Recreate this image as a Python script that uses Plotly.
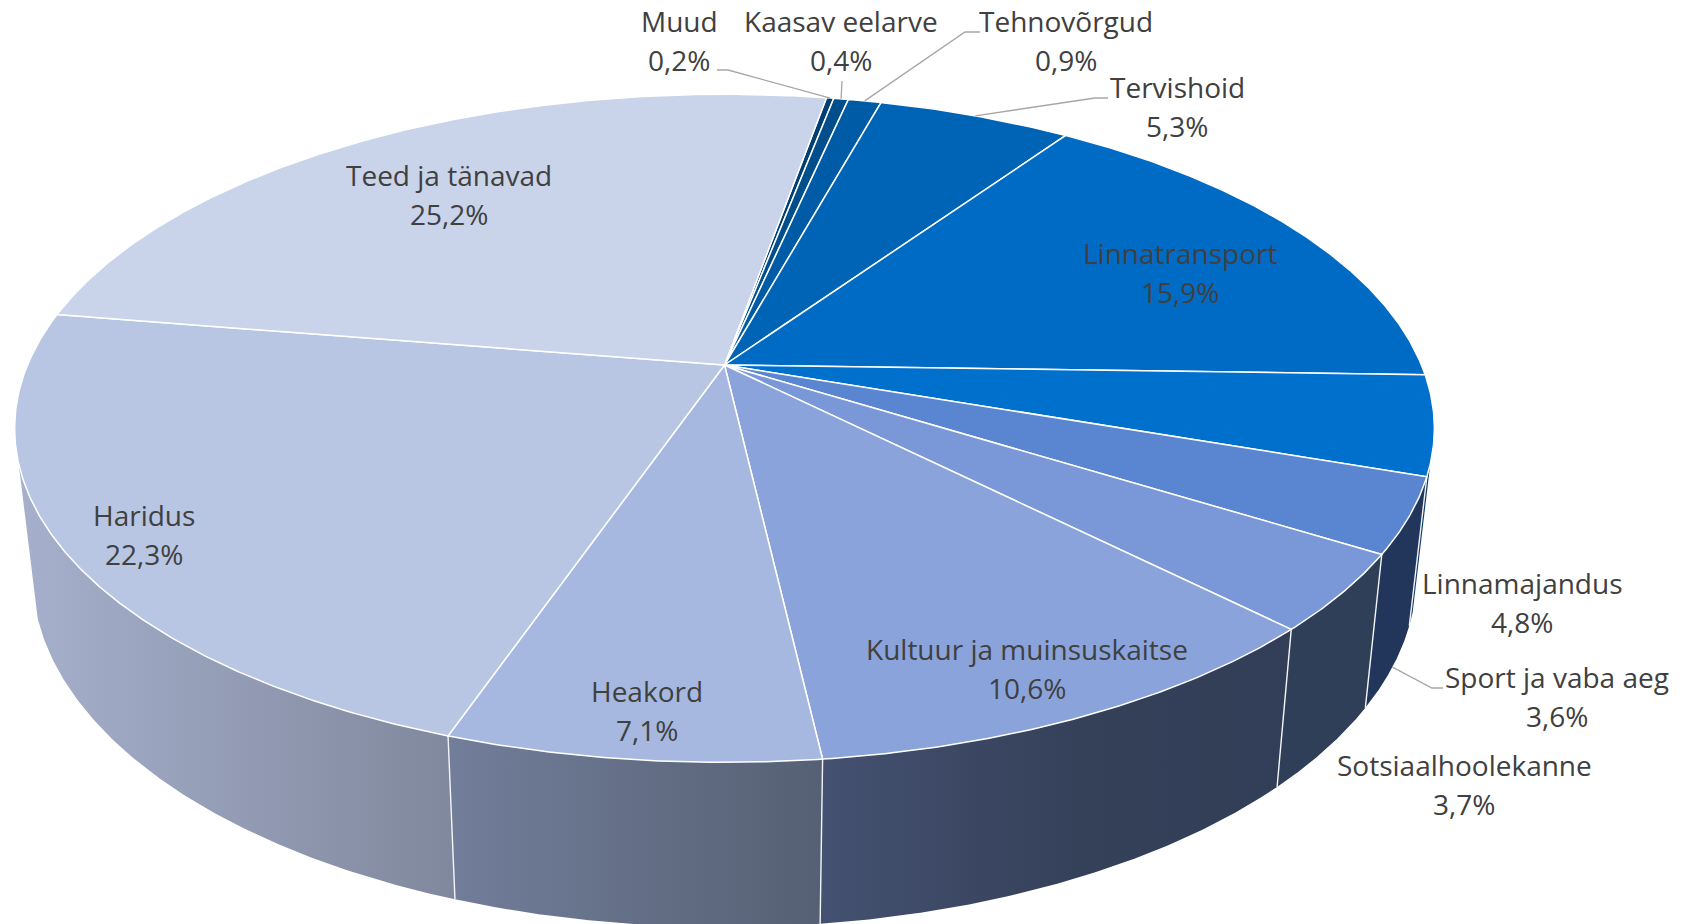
import numpy as np
import plotly.graph_objects as go

categories = ["Muud", "Kaasav eelarve", "Tehnovõrgud", "Tervishoid", "Linnatransport", "Linnamajandus",
              "Sport ja vaba aeg", "Sotsiaalhoolekanne", "Kultuur ja muinsuskaitse", "Heakord", "Haridus", "Teed ja tänavad"]
values = [0.2, 0.4, 0.9, 5.3, 15.9, 4.8, 3.6, 3.7, 10.6, 7.1, 22.3, 25.2]
top_colors = ["#003f73", "#004e8c", "#005ba6", "#0064b6", "#006bc4", "#0070cd",
              "#5a85d1", "#7a98d8", "#8aa4db", "#a6b8e0", "#b8c6e4", "#c9d4eb"]
wall_left = {"Linnamajandus": "#0b3a68", "Sport ja vaba aeg": "#21365a", "Sotsiaalhoolekanne": "#303f58",
             "Kultuur ja muinsuskaitse": "#445170", "Heakord": "#727e9a", "Haridus": "#a6b0cc"}
wall_right = {"Linnamajandus": "#0b3a68", "Sport ja vaba aeg": "#21365a", "Sotsiaalhoolekanne": "#303f58",
              "Kultuur ja muinsuskaitse": "#323e57", "Heakord": "#566074", "Haridus": "#80889d"}
wall_mid = {"Kultuur ja muinsuskaitse": "#354059"}

# label layout: centre of the name line and of the value line
label_x = [679, 841, 1066, 1177, 1180, 1522, 1557, 1464, 1027, 647, 144, 449]
label_y = [21, 21, 21, 87, 253, 583, 677, 765, 649, 691, 515, 175]
line_gap = 38.6
# leader lines: elbow and end beside the label, for categories that have one
leaders = {"Muud": [(728, 70), (717, 70)], "Kaasav eelarve": [(842, 81)],
           "Tehnovõrgud": [(965, 32), (980, 32)], "Tervishoid": [(1095, 98), (1108, 98)],
           "Sport ja vaba aeg": [(1432, 688), (1443, 688)]}

# projection of the tilted disc
CX, CY, A, B, K = 724.5, 365.0, 697.0, 322.0, 0.1895
START = 10.0
BOT = dict(sx=0.975, sy=1.055, dy=143.0)
TOP = dict(sx=1.0, sy=1.0, dy=0.0)
VIS = (106.9, 253.1)


def proj(deg, p=TOP, r=1.0):
    t = np.radians(deg)
    x, y = r * np.sin(t), r * np.cos(t)
    w = 1 + K * y
    return CX + p["sx"] * A * x / w, CY + p["dy"] - p["sy"] * B * y / w


fracs = np.array(values) / sum(values) * 360
ends = START + np.cumsum(fracs)
starts = ends - fracs
fig = go.Figure()

# walls
order = sorted(range(len(values)), key=lambda i: -abs((starts[i] + ends[i]) / 2 - 180))
for i in order:
    name = categories[i]
    if name not in wall_left:
        continue
    a, b = max(starts[i], VIS[0]), min(ends[i], VIS[1])
    th = np.linspace(a, b, 120)
    xt, yt = proj(th)
    xb, yb = proj(th[::-1], BOT)
    cs = [[0, wall_left[name]], [1, wall_right[name]]]
    if name in wall_mid:
        cs = [[0, wall_left[name]], [0.55, wall_mid[name]], [1, wall_right[name]]]
    fig.add_trace(go.Scatter(x=np.r_[xt, xb, xt[0]], y=np.r_[yt, yb, yt[0]], mode="lines", fill="toself",
                             line=dict(width=0), fillgradient=dict(type="horizontal", colorscale=cs),
                             hoverinfo="skip", showlegend=False))
# white seams between walls
for i in range(len(values)):
    if VIS[0] < ends[i] < VIS[1]:
        xa, ya = proj(ends[i])
        xb, yb = proj(ends[i], BOT)
        fig.add_trace(go.Scatter(x=[xa, xb], y=[ya, yb], mode="lines", line=dict(color="#f2f4f8", width=1.4),
                                 hoverinfo="skip", showlegend=False))
# top faces
for i, name in enumerate(categories):
    th = np.linspace(starts[i], ends[i], max(int(fracs[i] * 3), 8))
    xt, yt = proj(th)
    fig.add_trace(go.Scatter(x=np.r_[CX, xt, CX], y=np.r_[CY, yt, CY], mode="lines", fill="toself",
                             fillcolor=top_colors[i], line=dict(color="#ffffff", width=1.5),
                             hoverinfo="skip", showlegend=False, name=name))
# leaders
mids = (starts + ends) / 2
for name, pts in leaders.items():
    i = categories.index(name)
    p = BOT if name == "Sport ja vaba aeg" else TOP
    sx, sy = proj(mids[i], p)
    fig.add_trace(go.Scatter(x=[sx] + [q[0] for q in pts], y=[sy] + [q[1] for q in pts], mode="lines",
                             line=dict(color="#a6a6a6", width=1.3), hoverinfo="skip", showlegend=False))
# labels
for i, name in enumerate(categories):
    pct = f"{values[i]:.1f}".replace(".", ",") + "%"
    for txt, yy in ((name, label_y[i]), (pct, label_y[i] + line_gap)):
        fig.add_annotation(x=label_x[i], y=yy, text=txt, showarrow=False, xanchor="center", yanchor="middle",
                           font=dict(family="Open Sans", size=28, color="#404040"))

fig.update_layout(margin=dict(l=0, r=0, t=0, b=0), paper_bgcolor="#ffffff", plot_bgcolor="#ffffff",
                  showlegend=False, width=1683, height=924,
                  xaxis=dict(range=[0, 1683], visible=False, fixedrange=True),
                  yaxis=dict(range=[924, 0], visible=False, fixedrange=True))
fig.write_html("out.html", config={"displayModeBar": False},
               post_script="document.body.style.margin='0';document.body.style.overflow='hidden';")
